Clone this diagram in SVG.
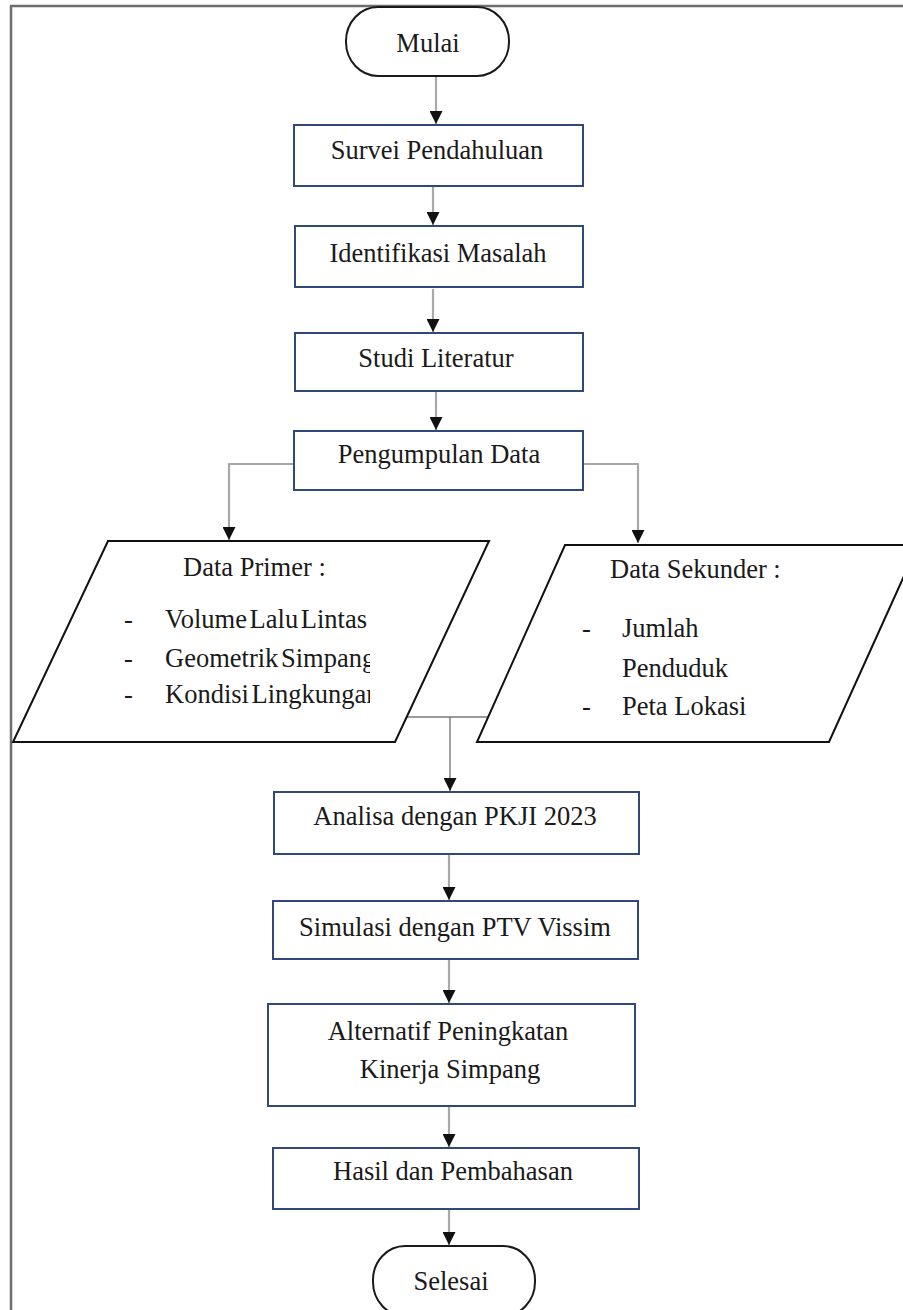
<svg xmlns="http://www.w3.org/2000/svg" width="903" height="1310" viewBox="0 0 903 1310">
<style>
.box{fill:#fff;stroke:#2f4a7a;stroke-width:2}
.term{fill:#fff;stroke:#1a1a1a;stroke-width:2}
.para{fill:#fff;stroke:#111;stroke-width:2}
.t{font-family:"Liberation Serif","Times New Roman",serif;font-size:26.5px;fill:#1a1a1a}
.c{text-anchor:middle}
.tight{word-spacing:-4px}
.ln{fill:none;stroke:#a8a8a8;stroke-width:2.2}
.ln2{fill:none;stroke:#7a7a7a;stroke-width:1.4}
</style>
<defs>
<marker id="ah" markerUnits="userSpaceOnUse" markerWidth="14" markerHeight="13" refX="13" refY="6.5" orient="auto">
<path d="M0,0 L13,6.5 L0,13 Z" fill="#111"/>
</marker>
<clipPath id="clipPrim"><rect x="0" y="590" width="370" height="130"/></clipPath>
</defs>
<rect x="0" y="0" width="903" height="1310" fill="#fff"/>
<g id="frame">
<line x1="10" y1="6" x2="903" y2="6" stroke="#6e6e6e" stroke-width="2.5"/>
<line x1="11" y1="6" x2="11" y2="1310" stroke="#6e6e6e" stroke-width="2.5"/>
</g>
<g id="connectors">
<line class="ln" x1="436" y1="76" x2="436" y2="124" marker-end="url(#ah)"/>
<line class="ln" x1="433" y1="186" x2="433" y2="225" marker-end="url(#ah)"/>
<line class="ln" x1="433" y1="289" x2="433" y2="332" marker-end="url(#ah)"/>
<line class="ln" x1="436" y1="391" x2="436" y2="430" marker-end="url(#ah)"/>
<path class="ln" d="M294,464 H229 V540" marker-end="url(#ah)"/>
<path class="ln" d="M583,464 H638 V543" marker-end="url(#ah)"/>
<path class="ln2" d="M406,717 H488"/>
<line class="ln2" x1="450" y1="717" x2="450" y2="791" marker-end="url(#ah)"/>
<line class="ln" x1="449" y1="854" x2="449" y2="900" marker-end="url(#ah)"/>
<line class="ln" x1="449" y1="959" x2="449" y2="1003" marker-end="url(#ah)"/>
<line class="ln" x1="449" y1="1106" x2="449" y2="1147" marker-end="url(#ah)"/>
<line class="ln" x1="449" y1="1209" x2="449" y2="1245" marker-end="url(#ah)"/>
</g>
<g id="mulai">
<rect class="term" x="346" y="7" width="163" height="69" rx="32" ry="34"/>
<text class="t c" x="428" y="52">Mulai</text>
</g>
<g id="survei">
<rect class="box" x="294" y="125" width="289" height="61"/>
<text class="t c" x="437" y="159">Survei Pendahuluan</text>
</g>
<g id="identifikasi">
<rect class="box" x="295" y="226" width="288" height="61"/>
<text class="t c" x="438" y="262">Identifikasi Masalah</text>
</g>
<g id="studi">
<rect class="box" x="295" y="333" width="288" height="58"/>
<text class="t c" x="436" y="367">Studi Literatur</text>
</g>
<g id="pengumpulan">
<rect class="box" x="294" y="431" width="289" height="59"/>
<text class="t c" x="439" y="463">Pengumpulan Data</text>
</g>
<g id="primer">
<polygon class="para" points="108,541 489,541 395,742 13,742"/>
<text class="t" x="183" y="576">Data Primer :</text>
<text class="t" x="124" y="628">-</text>
<text class="t" x="124" y="667">-</text>
<text class="t" x="124" y="703">-</text>
<g clip-path="url(#clipPrim)">
<text class="t tight" x="165" y="628">Volume Lalu Lintas</text>
<text class="t tight" x="165" y="667">Geometrik Simpang</text>
<text class="t tight" x="165" y="703">Kondisi Lingkungan</text>
</g>
</g>
<g id="sekunder">
<polygon class="para" points="565,545 918,545 829,742 477,742"/>
<text class="t" x="610" y="578">Data Sekunder :</text>
<text class="t" x="582" y="637">-</text>
<text class="t" x="622" y="637">Jumlah</text>
<text class="t" x="622" y="677">Penduduk</text>
<text class="t" x="582" y="715">-</text>
<text class="t" x="622" y="715">Peta Lokasi</text>
</g>
<g id="analisa">
<rect class="box" x="274" y="792" width="365" height="62"/>
<text class="t c" x="455" y="825">Analisa dengan PKJI 2023</text>
</g>
<g id="simulasi">
<rect class="box" x="273" y="901" width="365" height="58"/>
<text class="t c" x="455" y="936">Simulasi dengan PTV Vissim</text>
</g>
<g id="alternatif">
<rect class="box" x="268" y="1004" width="367" height="102"/>
<text class="t c" x="448" y="1040">Alternatif Peningkatan</text>
<text class="t c" x="450" y="1078">Kinerja Simpang</text>
</g>
<g id="hasil">
<rect class="box" x="273" y="1148" width="366" height="61"/>
<text class="t c" x="453" y="1180">Hasil dan Pembahasan</text>
</g>
<g id="selesai">
<rect class="term" x="373" y="1246" width="162" height="70" rx="32" ry="34"/>
<text class="t c" x="451" y="1290">Selesai</text>
</g>
</svg>
